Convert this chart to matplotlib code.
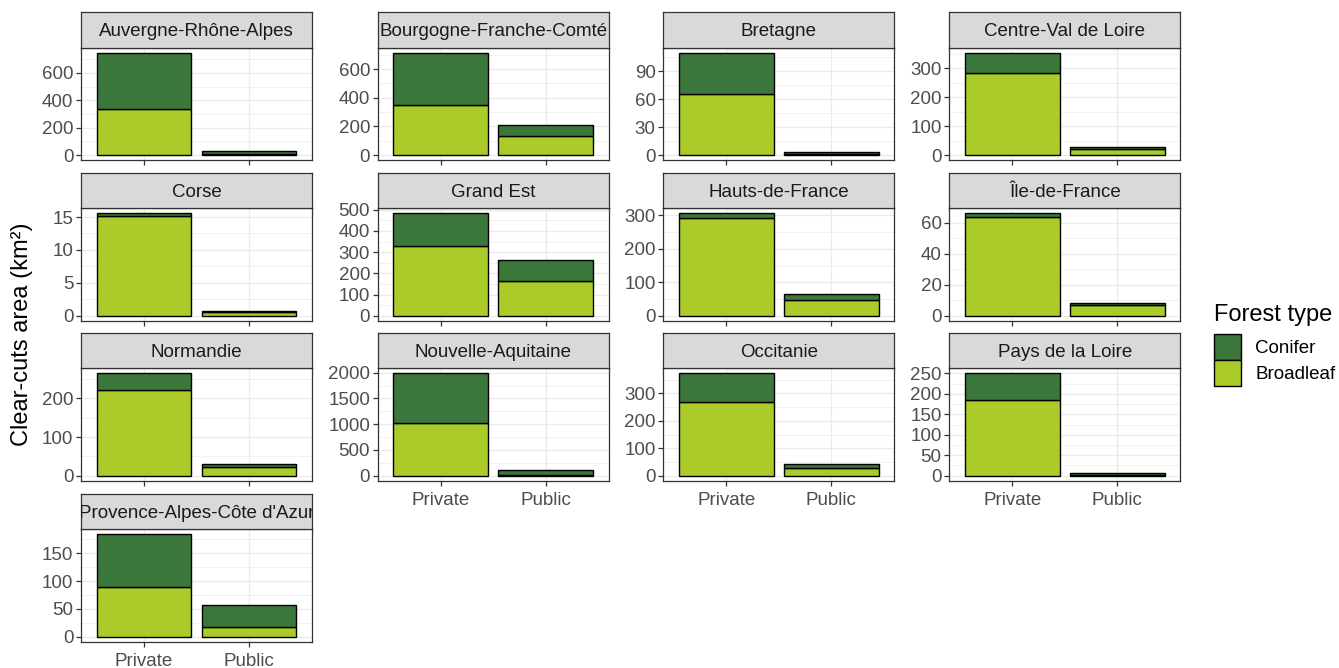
import matplotlib.pyplot as plt
from matplotlib.patches import Patch
from matplotlib.ticker import MultipleLocator, AutoMinorLocator

plt.rcParams['font.family'] = ['Liberation Sans', 'DejaVu Sans']

regions = ['Auvergne-Rhône-Alpes', 'Bourgogne-Franche-Comté', 'Bretagne',
           'Centre-Val de Loire', 'Corse', 'Grand Est', 'Hauts-de-France',
           'Île-de-France', 'Normandie', 'Nouvelle-Aquitaine', 'Occitanie',
           'Pays de la Loire', "Provence-Alpes-Côte d'Azur"]
ownership = ['Private', 'Public']

# clear-cut area in km2, (private, public) for each region
broadleaf = [(336, 10), (347, 135), (66, 1), (283, 22), (15.2, 0.5),
             (331, 166), (292, 48), (64, 6.8), (222, 23), (1032, 20),
             (270, 28), (184, 2), (89.5, 18)]
conifer = [(410, 22), (367, 74), (44, 2.5), (71, 5), (0.35, 0.25),
           (152, 99), (14, 16), (2, 1.2), (43, 6.5), (955, 90),
           (103, 14), (66, 4), (94.5, 39.5)]

# y tick spacing per panel
tick_step = [200, 200, 30, 100, 5, 100, 100, 20, 100, 500, 100, 50, 50]

col_broadleaf = '#AACB2A'
col_conifer = '#3B763A'
small = 13.5
big = 17

W, H = 1339, 668
fig = plt.figure(figsize=(W / 100, H / 100), dpi=100)

col_left = [81, 377.7, 663.3, 949.3]
panel_w = 231
row_top = [47.7, 208.3, 368.3, 529.3]
panel_h = 112.5
strip_h = 35.5


def fr(x, y, w, h):
    return [x / W, 1 - (y + h) / H, w / W, h / H]


for i, reg in enumerate(regions):
    r, c = divmod(i, 4)
    x0, y0 = col_left[c], row_top[r]
    ax = fig.add_axes(fr(x0, y0, panel_w, panel_h))
    xs = range(len(ownership))
    bl = broadleaf[i]
    cf = conifer[i]
    ax.bar(xs, bl, width=0.9, color=col_broadleaf, edgecolor='black', linewidth=1.0, zorder=3)
    ax.bar(xs, cf, width=0.9, bottom=bl, color=col_conifer, edgecolor='black', linewidth=1.0, zorder=3)

    top = max(b + f for b, f in zip(bl, cf))
    ax.set_ylim(-0.05 * top, 1.05 * top)
    ax.set_xlim(-0.6, 1.6)
    ax.yaxis.set_major_locator(MultipleLocator(tick_step[i]))
    ax.yaxis.set_minor_locator(AutoMinorLocator(2))
    ax.set_xticks(list(xs))
    ax.grid(which='major', color='#EBEBEB', linewidth=1.0, zorder=0)
    ax.grid(which='minor', axis='y', color='#EBEBEB', linewidth=0.5, zorder=0)
    ax.set_axisbelow(True)
    for s in ax.spines.values():
        s.set_color('#333333')
        s.set_linewidth(0.9)
    ax.tick_params(axis='both', which='major', length=3.5, width=0.9, color='#333333',
                   labelcolor='#4D4D4D', labelsize=small, pad=2)
    ax.tick_params(axis='x', which='major', pad=4.5)
    ax.tick_params(axis='y', which='minor', length=0)

    last_in_col = (i + 4) >= len(regions)
    if last_in_col:
        ax.set_xticklabels(ownership)
    else:
        ax.set_xticklabels([])

    # facet strip
    sax = fig.add_axes(fr(x0, y0 - strip_h, panel_w, strip_h))
    sax.set_xticks([])
    sax.set_yticks([])
    sax.set_facecolor('#D9D9D9')
    for s in sax.spines.values():
        s.set_color('#333333')
        s.set_linewidth(0.9)
    sax.text(0.5, 0.45, reg, ha='center', va='center', fontsize=small,
             color='#1A1A1A', transform=sax.transAxes, clip_on=True)

fig.text(22 / W, 1 - 334 / H, 'Clear-cuts area (km²)', rotation=90,
         ha='center', va='center', fontsize=big, color='black')

handles = [Patch(facecolor=col_conifer, edgecolor='black', linewidth=1.0),
           Patch(facecolor=col_broadleaf, edgecolor='black', linewidth=1.0)]
leg = fig.legend(handles, ['Conifer', 'Broadleaf'], title='Forest type',
                 loc='upper left', bbox_to_anchor=(1214 / W, 1 - 304 / H),
                 frameon=False, fontsize=small, title_fontsize=big,
                 handlelength=1.45, handleheight=1.75, handletextpad=0.75,
                 labelspacing=0.0, borderaxespad=0, borderpad=0)
leg._legend_box.align = 'left'
leg._legend_box.sep = 6

fig.savefig('out.png', dpi=100)
